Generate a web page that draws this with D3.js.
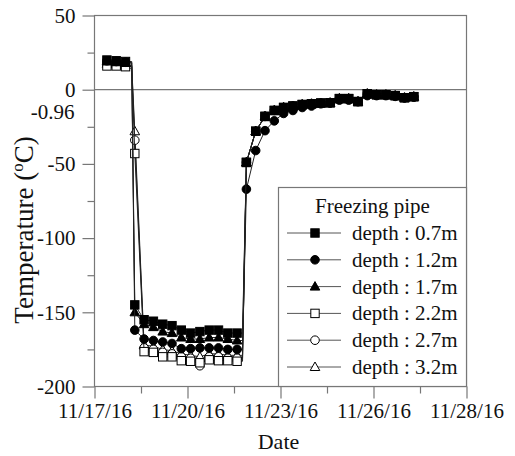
<!DOCTYPE html>
<html><head><meta charset="utf-8">
<script src="https://cdn.jsdelivr.net/npm/d3@7/dist/d3.min.js"></script>
<style>body{margin:0;background:#fff;} text{font-family:"Liberation Serif","Times New Roman","DejaVu Serif",serif;}</style>
</head><body><svg id="c" width="515" height="456"></svg>
<script>
// ---- data ----
const hours = [8,14,20,26,32,38,44,50,56,62,68,74,80,86,92,98,104,110,116,122,128,134,140,146,152,158,164,170,176,182,188,194,200,206];
const kneeHours = [24, 95.5];           // line-only turning points (no marker)
const depth07 = [20,19.5,19,-145,-155,-156,-158,-159,-162,-164,-163,-162,-162,-164,-164,-49,-28,-18,-14,-12,-11,-10,-9.5,-9,-8.8,-6,-6,-8,-2.7,-3.4,-3.4,-4,-5.4,-4.7];
const depth12 = [19.5,19,18.5,-162,-168,-169,-170,-171,-174.5,-174.5,-174,-174,-174,-175,-175,-67,-41,-27.6,-21,-16,-14,-12,-11,-9.5,-9,-7,-7,-8,-4,-4,-4,-4.5,-5.5,-5];
const depth17 = [19,18.5,18,-150,-158,-160,-163,-164,-167,-168,-168,-167,-167,-168,-169,-49,-28,-18,-14,-12,-11,-10,-9.5,-9,-8.8,-6,-6,-8,-2.7,-3.4,-3.4,-4,-5.4,-4.7];
const depth22 = [16,16,15.5,-43,-176.5,-177,-180,-180,-182.6,-183,-184,-182,-182.6,-182.6,-183,-49,-28,-18,-14,-12,-11,-10,-9.5,-9,-8.8,-6,-6,-8,-2.7,-3.4,-3.4,-4,-5.4,-4.7];
const depth27 = [17,16.5,16,-34,-174,-175,-177,-178,-180,-181,-186,-180,-180,-181,-181,-49,-28,-18,-14,-12,-11,-10,-9.5,-9,-8.8,-6,-6,-8,-2.7,-3.4,-3.4,-4,-5.4,-4.7];
const depth32 = [17.5,17,16.5,-28,-172,-173,-175,-176,-178,-179,-180,-178,-178,-179,-179,-49,-28,-18,-14,-12,-11,-10,-9.5,-9,-8.8,-6,-6,-8,-2.7,-3.4,-3.4,-4,-5.4,-4.7];
const knee07 = [19,-164], knee12 = [18.5,-175], knee17 = [18,-169], knee22 = [15.5,-183], knee27 = [16,-181], knee32 = [16.5,-179];
const seriesNames = ["depth : 0.7m","depth : 1.2m","depth : 1.7m","depth : 2.2m","depth : 2.7m","depth : 3.2m"];
const seriesValues = [depth07, depth12, depth17, depth22, depth27, depth32];
const seriesKnees = [knee07, knee12, knee17, knee22, knee27, knee32];
const xTickHours = [0,60,120,180,240];
const xTickLabels = ["11/17/16","11/20/16","11/23/16","11/26/16","11/28/16"];
const xMinorHours = [30,90,150,210];
const yMajor = [50,0,-50,-100,-150,-200];
const yMinor = [25,-25,-75,-125,-175];
const freezeLabel = "-0.96";

// ---- styles ----
const markerStyles = [
  {shape:"square", fill:"#000"}, {shape:"circle", fill:"#000"}, {shape:"triangle", fill:"#000"},
  {shape:"square", fill:"#fff"}, {shape:"circle", fill:"#fff"}, {shape:"triangle", fill:"#fff"}
];
const FONT = '"Liberation Serif","Times New Roman","DejaVu Serif",serif';
const axisColor = "#777";
const svg = d3.select("#c");
const L = 94.5, R = 466.5, T = 15.5, B = 386.5;
const x = d3.scaleLinear().domain([0,240]).range([L,R]);
const y = d3.scaleLinear().domain([-200,50]).range([B,T]);

function marker(g, shape, fill, cx, cy){
  if(shape==="square") g.append("rect").attr("x",cx-4.2).attr("y",cy-4.2).attr("width",8.4).attr("height",8.4)
      .attr("fill",fill).attr("stroke","#000").attr("stroke-width",1);
  else if(shape==="circle") g.append("circle").attr("cx",cx).attr("cy",cy).attr("r",4.3)
      .attr("fill",fill).attr("stroke","#000").attr("stroke-width",1);
  else g.append("path").attr("d",`M${cx},${cy-5}L${cx+4.8},${cy+3.5}L${cx-4.8},${cy+3.5}Z`)
      .attr("fill",fill).attr("stroke","#000").attr("stroke-width",1);
}

// frame
svg.append("rect").attr("x",L).attr("y",T).attr("width",R-L).attr("height",B-T)
  .attr("fill","none").attr("stroke",axisColor).attr("stroke-width",1.2);
// zero line
svg.append("line").attr("x1",L).attr("x2",R).attr("y1",y(0)).attr("y2",y(0))
  .attr("stroke",axisColor).attr("stroke-width",1.2);

// axes
const ya = svg.append("g").attr("transform",`translate(${L},0)`)
  .call(d3.axisLeft(y).tickValues(yMajor).tickSize(12).tickPadding(7).tickFormat(d=>String(d)));
const ym = svg.append("g").attr("transform",`translate(${L},0)`)
  .call(d3.axisLeft(y).tickValues(yMinor).tickSize(7).tickFormat(""));
const xa = svg.append("g").attr("transform",`translate(0,${B})`)
  .call(d3.axisBottom(x).tickValues(xTickHours).tickSize(12).tickPadding(5).tickFormat((d,i)=>xTickLabels[i]));
const xm = svg.append("g").attr("transform",`translate(0,${B})`)
  .call(d3.axisBottom(x).tickValues(xMinorHours).tickSize(7).tickFormat(""));
[ya,ym,xa,xm].forEach(g=>{
  g.attr("font-family",FONT);
  g.select(".domain").remove();
  g.selectAll("line").attr("stroke",axisColor).attr("stroke-width",1.2);
  g.selectAll("text").attr("font-size",21).attr("fill","#111").attr("font-family",FONT);
});
// -0.96 label
svg.append("text").attr("x",L-20).attr("y",y(-14.5)).attr("dy","0.35em").attr("text-anchor","end")
  .attr("font-size",21).attr("fill","#111").text(freezeLabel);

// axis titles
svg.append("text").attr("x",(L+R)/2-2).attr("y",449).attr("text-anchor","middle")
  .attr("font-size",22).attr("fill","#111").text("Date");
const yt = svg.append("text").attr("transform","rotate(-90)").attr("x",-230).attr("y",33)
  .attr("text-anchor","middle").attr("font-size",27).attr("fill","#111");
yt.append("tspan").text("Temperature (");
yt.append("tspan").attr("font-size",17).attr("dy",-10).text("o");
yt.append("tspan").attr("dy",10).text("C)");

// series (deepest first so shallow filled markers sit on top)
const line = d3.line().x(d=>x(d[0])).y(d=>y(d[1]));
for(let s=5; s>=0; s--){
  const vals = seriesValues[s];
  const pts = hours.map((h,i)=>[h, vals[i]]);
  seriesKnees[s].forEach((v,i)=>pts.push([kneeHours[i], v]));
  pts.sort((a,b)=>a[0]-b[0]);
  const g = svg.append("g");
  g.append("path").attr("d",line(pts)).attr("fill","none").attr("stroke","#222").attr("stroke-width",1);
  hours.forEach((h,i)=>marker(g, markerStyles[s].shape, markerStyles[s].fill, x(h), y(vals[i])));
}

// legend
const lg = svg.append("g");
lg.append("rect").attr("x",278.5).attr("y",187.5).attr("width",R-278.5).attr("height",B-187.5)
  .attr("fill","#fff").attr("stroke",axisColor).attr("stroke-width",1.2);
lg.append("text").attr("x",(278.5+R)/2).attr("y",213).attr("text-anchor","middle")
  .attr("font-size",21).attr("fill","#111").text("Freezing pipe");
seriesNames.forEach((n,i)=>{
  const cy = 233 + i*26.8;
  lg.append("line").attr("x1",287).attr("x2",341).attr("y1",cy).attr("y2",cy).attr("stroke","#555").attr("stroke-width",1);
  marker(lg, markerStyles[i].shape, markerStyles[i].fill, 315, cy);
  lg.append("text").attr("x",352).attr("y",cy+7).attr("font-size",21).attr("fill","#111").text(n);
});
</script></body></html>
